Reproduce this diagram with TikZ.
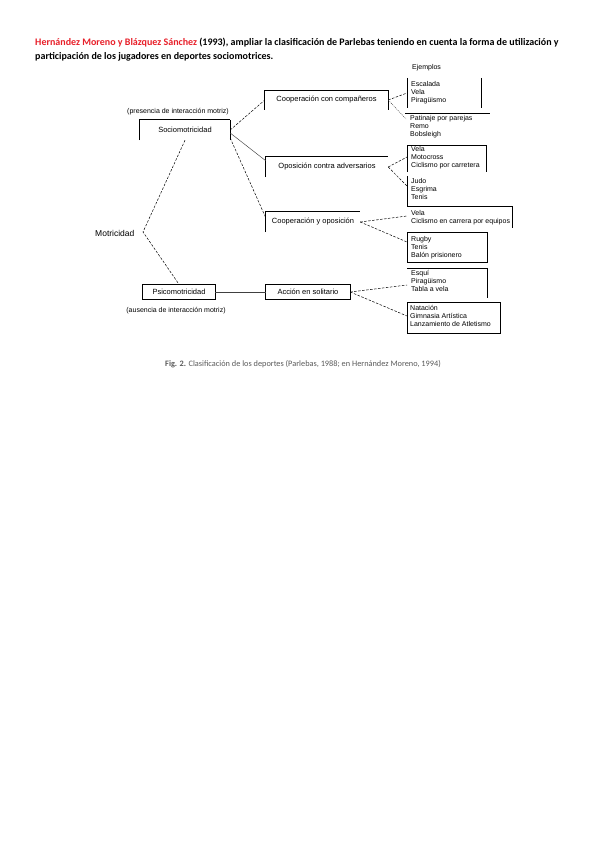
\documentclass[tikz,border=0pt]{standalone}
\usepackage{fontspec}
\setmainfont{Carlito}
\newfontfamily\arialf{Liberation Sans}
\usetikzlibrary{calc}
\definecolor{titlered}{RGB}{232,32,42}
\definecolor{capgray}{RGB}{90,90,90}
\begin{document}
\begin{tikzpicture}[x=1pt,y=-1pt,
  titletext/.style={inner sep=0pt,anchor=west,font=\fontsize{10}{12}\selectfont\bfseries},
  dtext/.style={inner sep=0pt,font=\arialf\fontsize{7.5}{8}\selectfont},
  smalltext/.style={inner sep=0pt,font=\arialf\fontsize{7}{8}\selectfont},
  exlist/.style={smalltext,anchor=north west,align=left},
  catbox/.style={dtext,inner sep=0pt},
  boxline/.style={line width=0.7pt,black},
  dsh/.style={line width=0.5pt,black,dash pattern=on 2.5pt off 1.5pt},
  dot/.style={line width=0.4pt,black!80,dash pattern=on 1pt off 1pt},
  thin/.style={line width=0.45pt,black!75}
]
\useasboundingbox[fill=white] (0,0) rectangle (599,848);

% title
\node[titletext] (t1) at (35,43) {{\color{titlered}Hernández Moreno y Blázquez Sánchez} (1993), ampliar la clasificación de Parlebas teniendo en cuenta la forma de utilización y};
\node[titletext] (t2) at (35,57) {participación de los jugadores en deportes sociomotrices.};

% category boxes
\node[catbox,minimum width=123pt,minimum height=19pt] (cc) at (326.5,100) {Cooperación con compañeros};
\node[catbox,minimum width=90pt,minimum height=20pt] (so) at (185,130) {Sociomotricidad};
\node[catbox,minimum width=122pt,minimum height=20pt] (op) at (327,167) {Oposición contra adversarios};
\node[catbox,minimum width=94pt,minimum height=20pt] (co) at (313,222) {Cooperación y oposición};
\node[catbox,minimum width=84pt,minimum height=15pt] (ac) at (308,292) {Acción en solitario};
\node[catbox,minimum width=72pt,minimum height=15pt] (ps) at (179,292) {Psicomotricidad};

\draw[boxline] (cc.south west) -- (cc.north west) -- (cc.north east) -- (cc.south east);
\draw[boxline] (so.south west) -- (so.north west) -- (so.north east);
\draw[line width=1.2pt] (so.north east) -- (so.south east);
\draw[boxline] (op.south west) -- (op.north west) -- (op.north east);
\draw[boxline] (co.south west) -- (co.north west) -- (co.north east);
\draw[boxline] (ac.south west) rectangle (ac.north east);
\draw[boxline] (ps.south west) rectangle (ps.north east);

% labels
\node[smalltext] (pres) at (178,112) {(presencia de interacción motriz)};
\node[smalltext] (aus) at (176,311) {(ausencia de interacción motriz)};
\node[dtext,anchor=west,font=\arialf\fontsize{8.5}{9}\selectfont] (mo) at (95,233) {Motricidad};
\node[smalltext,anchor=west] (ej) at (412,68) {Ejemplos};

% example lists
\node[exlist] (la) at (411,81) {Escalada\\Vela\\Piragüismo};
\node[exlist] (lp) at (410,115) {Patinaje por parejas\\Remo\\Bobsleigh};
\node[exlist] (lb) at (411,146.5) {Vela\\Motocross\\Ciclismo por carretera};
\node[exlist] (lc) at (411,178) {Judo\\Esgrima\\Tenis};
\node[exlist] (ld) at (411,210) {Vela\\Ciclismo en carrera por equipos};
\node[exlist] (le) at (411,236) {Rugby\\Tenis\\Balón prisionero};
\node[exlist] (lf) at (411,270) {Esquí\\Piragüismo\\Tabla a vela};
\node[exlist] (lg) at (410,305) {Natación\\Gimnasia Artística\\Lanzamiento de Atletismo};

% example box frames
\coordinate (a1) at (407,78); \coordinate (a2) at (481,108);
\draw[boxline] (a1) -- (a1|-a2);
\draw[boxline] (a2|-a1) -- (a2);
\coordinate (pl1) at (405,113); \coordinate (pl2) at (490,113);
\draw[boxline] (pl1) -- (pl2);
\coordinate (b1) at (407,145); \coordinate (b2) at (486,172);
\draw[boxline] (b1|-b2) -- (b1) -- (b2|-b1) -- (b2);
\coordinate (c1) at (407,176); \coordinate (c2) at (512,206);
\draw[boxline] (c1) -- (c1|-c2) -- (c2);
\coordinate (d2) at (512,228);
\draw[boxline] (c2) -- (d2);
\coordinate (e1) at (407,232); \coordinate (e2) at (487,262);
\draw[boxline] (e1) rectangle (e2);
\coordinate (f1) at (407,268); \coordinate (f2) at (487,298);
\draw[boxline] (f1) -- (f2|-f1) -- (f2);
\coordinate (g1) at (407,302); \coordinate (g2) at (500,333);
\draw[boxline] (g1) rectangle (g2);

% connectors
\coordinate (mv) at (143,232);
\draw[dsh] (so.south) -- (mv) -- (ps.north);
\draw[dsh] (so.east) -- (cc.west);
\draw[thin] ([yshift=-3pt]so.east) -- ([yshift=-4pt]op.north west);
\draw[dsh] ([yshift=-8pt]so.east) -- ([yshift=-6pt]co.north west);
\draw[thin] (ps.east) -- (ac.west);

\draw[dsh] (cc.east) -- (407,93);
\draw[dot] (cc.east) -- (406,119);
\draw[dsh] (op.east) -- (407,157);
\draw[dsh] (op.east) -- (407,186);
\draw[dsh] (co.east) -- (407,216);
\draw[dsh] (co.east) -- (407,242);
\draw[dsh] (ac.east) -- (407,285);
\draw[dsh] (ac.east) -- (407,316);

% caption
\node[inner sep=0pt,anchor=west,font=\fontsize{8.3}{9}\selectfont,text=capgray] (cap) at (165,364) {{\bfseries Fig. 2.} Clasificación de los deportes (Parlebas, 1988; en Hernández Moreno, 1994)};
\end{tikzpicture}
\end{document}
